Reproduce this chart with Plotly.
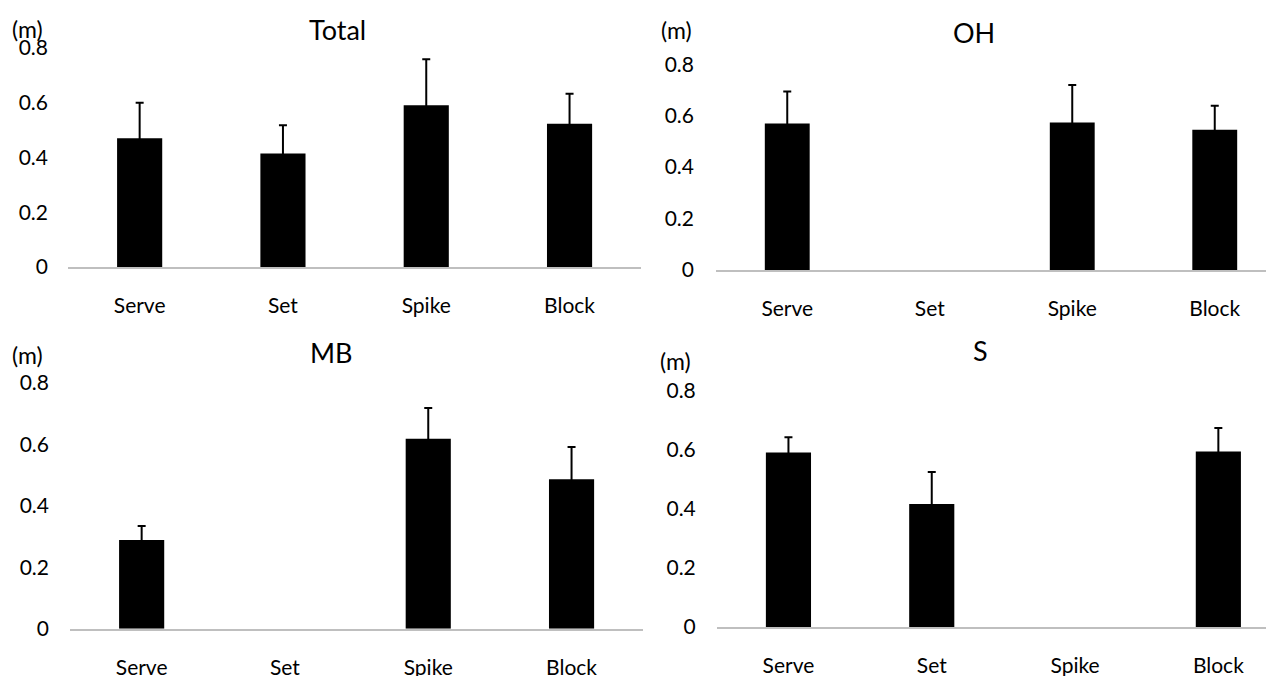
import plotly.graph_objects as go

categories = ["Serve", "Set", "Spike", "Block"]

total_mean = [0.471, 0.415, 0.591, 0.524]
total_sd = [0.129, 0.103, 0.168, 0.109]

oh_mean = [0.569, None, 0.573, 0.545]
oh_sd = [0.125, None, 0.146, 0.093]

mb_mean = [0.289, None, 0.618, 0.486]
mb_sd = [0.045, None, 0.100, 0.105]

s_mean = [0.590, 0.416, None, 0.594]
s_sd = [0.052, 0.108, None, 0.079]

titles = ["Total", "OH", "MB", "S"]
unit_label = "(m)"
y_ticks = [0, 0.2, 0.4, 0.6, 0.8]
y_ticktext = ["0", "0.2", "0.4", "0.6", "0.8"]

W, H = 1274, 676
FONT = "Lato"

# The page shows the figure shifted/compressed a little; map desired
# screen pixels to figure pixels.
X_OFF = 8.0
Y_OFF, Y_SCALE = 22.9, 0.962


def fx(xd):
    return xd - X_OFF


def fy(yd):
    return (yd - Y_OFF) / Y_SCALE


def px(xd):
    return fx(xd) / W


def py(yd):
    return 1 - fy(yd) / H


panels = [
    dict(x0=68.0, spacing=143.3, ytop=49.0, ybase=267.7, ystand=19),
    dict(x0=716.0, spacing=142.5, ytop=65.0, ybase=270.7, ystand=21),
    dict(x0=70.0, spacing=143.3, ytop=383.3, ybase=629.0, ystand=20),
    dict(x0=716.8, spacing=143.3, ytop=391.0, ybase=627.3, ystand=20),
]
series = [(total_mean, total_sd), (oh_mean, oh_sd), (mb_mean, mb_sd), (s_mean, s_sd)]

title_pos = [(337.6, 30.0), (974.0, 33.3), (331.0, 353.3), (980.0, 351.3)]
unit_pos = [(27.0, 29.5), (676.0, 30.5), (27.6, 355.8), (675.6, 362.0)]

xpos = list(range(len(categories)))

fig = go.Figure()
layout = dict(
    width=W, height=H,
    margin=dict(l=0, r=0, t=0, b=0),
    paper_bgcolor="white", plot_bgcolor="white",
    showlegend=False,
    font=dict(family=FONT, color="black"),
    annotations=[],
)

for i, (p, (mean, sd)) in enumerate(zip(panels, series)):
    n = "" if i == 0 else str(i + 1)
    x0s = fx(p["x0"])
    x_right = x0s + 4 * p["spacing"]
    if x_right > W:
        dom_r = 1.0
        rng_r = -0.5 + (W - x0s) / p["spacing"]
    else:
        dom_r = x_right / W
        rng_r = 3.5
    fig.add_trace(go.Bar(
        x=xpos, y=mean, width=0.315,
        marker=dict(color="black", line=dict(width=0)),
        error_y=dict(type="data", array=sd, color="black",
                     thickness=2, width=4),
        xaxis="x" + n, yaxis="y" + n,
    ))
    layout["xaxis" + n] = dict(
        domain=[x0s / W, dom_r], range=[-0.5, rng_r],
        anchor="y" + n, tickmode="array", tickvals=xpos, ticktext=categories,
        showline=True, linecolor="#BFBFBF", linewidth=1.5,
        showgrid=False, zeroline=False, ticks="",
        ticklabelstandoff=19, tickfont=dict(size=21, family=FONT, color="black"),
        fixedrange=True,
    )
    layout["yaxis" + n] = dict(
        domain=[py(p["ybase"]), py(p["ytop"])], range=[0, 0.8],
        anchor="x" + n, tickmode="array", tickvals=y_ticks, ticktext=y_ticktext,
        showline=False, showgrid=False, zeroline=False, ticks="",
        ticklabelstandoff=p["ystand"], tickfont=dict(size=21, family=FONT, color="black"),
        fixedrange=True,
    )
    tx, ty = title_pos[i]
    layout["annotations"].append(dict(
        text=titles[i], x=px(tx), y=py(ty), xref="paper", yref="paper",
        xanchor="center", yanchor="middle", showarrow=False,
        font=dict(size=27, family=FONT, color="black"),
    ))
    ux, uy = unit_pos[i]
    layout["annotations"].append(dict(
        text=unit_label, x=px(ux), y=py(uy), xref="paper", yref="paper",
        xanchor="center", yanchor="middle", showarrow=False,
        font=dict(size=23, family=FONT, color="black"),
    ))

fig.update_layout(**layout)
fig.write_html("out.html")
